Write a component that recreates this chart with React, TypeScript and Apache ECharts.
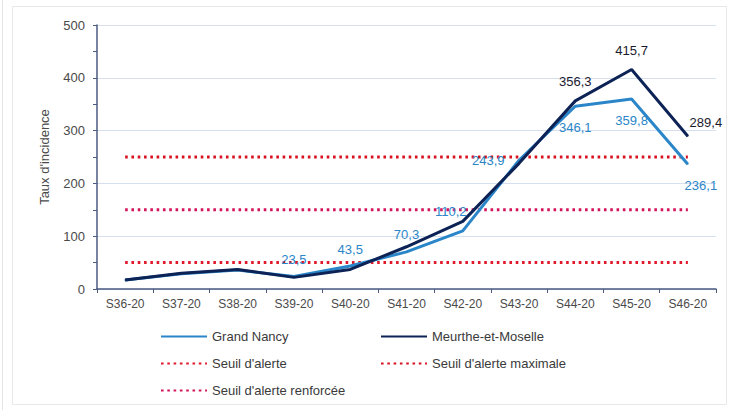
import React, { useEffect, useRef } from "react";
import * as echarts from "echarts";

const weeks = ["S36-20", "S37-20", "S38-20", "S39-20", "S40-20", "S41-20", "S42-20", "S43-20", "S44-20", "S45-20", "S46-20"];
const grandNancy = [17, 29, 36, 23.5, 43.5, 70.3, 110.2, 243.9, 346.1, 359.8, 236.1];
const meurthe = [17, 30, 37, 22, 37, 80, 128, 238, 356.3, 415.7, 289.4];
const seuilAlerte = [50, 50, 50, 50, 50, 50, 50, 50, 50, 50, 50];
const seuilRenforcee = [150, 150, 150, 150, 150, 150, 150, 150, 150, 150, 150];
const seuilMaximale = [250, 250, 250, 250, 250, 250, 250, 250, 250, 250, 250];
const yTicks = [0, 100, 200, 300, 400, 500];

const fmt = (v: number) => v.toFixed(1).replace(".", ",");

const GN = "#2a86c8";
const MM = "#0d2356";
const FONT = "Liberation Sans, Arial, sans-serif";

export default function App() {
  const ref = useRef<HTMLDivElement>(null);
  useEffect(() => {
    const chart = echarts.init(ref.current!, null, { renderer: "svg" });

    const gnLabels: Record<number, any> = {
      3: { position: "top", distance: 10 },
      4: { position: "top", distance: 10 },
      5: { position: "top", distance: 10 },
      6: { position: "top", distance: 12, offset: [-12, 0] },
      7: { position: "left", distance: 14 },
      8: { position: "bottom", distance: 14 },
      9: { position: "bottom", distance: 14 },
      10: { position: "bottom", distance: 14, offset: [13, 0] },
    };
    const mmLabels: Record<number, any> = {
      8: { position: "top", distance: 12 },
      9: { position: "top", distance: 12 },
      10: { position: "top", distance: 7, offset: [18, 0] },
    };

    const gnData = grandNancy.map((v, i) => ({
      value: v,
      label: gnLabels[i]
        ? { show: true, color: GN, fontSize: 13, fontFamily: FONT, formatter: () => fmt(v), ...gnLabels[i] }
        : { show: false },
    }));
    const mmData = meurthe.map((v, i) => ({
      value: v,
      label: mmLabels[i]
        ? { show: true, color: "#1a1a2e", fontSize: 13, fontFamily: FONT, formatter: () => fmt(v), ...mmLabels[i] }
        : { show: false },
    }));

    const dotted = (name: string, data: number[], color: string) => ({
      name,
      type: "line",
      data,
      symbol: "none",
      silent: true,
      z: 1,
      lineStyle: { color, width: 3, type: [2.6, 3.7], cap: "butt" },
      itemStyle: { color },
    });

    const legendBase = {
      itemWidth: 46,
      itemHeight: 12,
      padding: 0,
      itemStyle: { color: "transparent", borderWidth: 0, opacity: 0 },
      textStyle: { fontSize: 13, color: "#3a3a3a", fontFamily: FONT },
      selectedMode: false,
    };

    chart.setOption({
      animation: false,
      backgroundColor: "#ffffff",
      grid: { left: 97, right: 22, top: 25, bottom: 121 },
      xAxis: {
        type: "category",
        data: weeks,
        boundaryGap: true,
        axisLine: { lineStyle: { color: "#4a5a80", width: 1.5 } },
        axisTick: { show: true, length: 4, lineStyle: { color: "#4a5a80" } },
        axisLabel: { color: "#4a4a4a", fontSize: 12, fontFamily: FONT, margin: 9 },
      },
      yAxis: {
        type: "value",
        min: yTicks[0],
        max: yTicks[yTicks.length - 1],
        interval: 100,
        name: "Taux d'incidence",
        nameLocation: "middle",
        nameGap: 46,
        nameTextStyle: { fontSize: 13, color: "#4a4a4a", fontFamily: FONT },
        axisLine: { show: true, lineStyle: { color: "#4a5a80", width: 1.5 } },
        axisTick: { show: true, length: 4, lineStyle: { color: "#4a5a80" } },
        minorTick: { show: true, splitNumber: 2, length: 4, lineStyle: { color: "#4a5a80" } },
        axisLabel: { color: "#4a4a4a", fontSize: 13, fontFamily: FONT, margin: 12 },
        splitLine: { show: true, lineStyle: { color: "#d5dff0", width: 1 } },
      },
      legend: [
        { ...legendBase, data: ["Grand Nancy"], left: 160, top: 330 },
        { ...legendBase, data: ["Meurthe-et-Moselle"], left: 380, top: 330 },
        { ...legendBase, data: ["Seuil d'alerte"], left: 160, top: 357 },
        { ...legendBase, data: ["Seuil d'alerte maximale"], left: 380, top: 357 },
        { ...legendBase, data: ["Seuil d'alerte renforcée"], left: 160, top: 384 },
      ],
      graphic: [
        { type: "rect", shape: { x: 12.5, y: 6.5, width: 714, height: 398 }, style: { fill: "none", stroke: "#e8e8e8", lineWidth: 1 }, silent: true },
        { type: "line", shape: { x1: 2.5, y1: 0, x2: 2.5, y2: 410 }, style: { stroke: "#e4e4e4", lineWidth: 1 }, silent: true },
      ],
      series: [
        dotted("Seuil d'alerte", seuilAlerte, "#e0182a"),
        dotted("Seuil d'alerte maximale", seuilMaximale, "#d8101f"),
        dotted("Seuil d'alerte renforcée", seuilRenforcee, "#d4145a"),
        {
          name: "Grand Nancy",
          type: "line",
          data: gnData,
          symbol: "circle",
          symbolSize: 1,
          showSymbol: true,
          z: 3,
          lineStyle: { color: GN, width: 3 },
          itemStyle: { color: GN },
        },
        {
          name: "Meurthe-et-Moselle",
          type: "line",
          data: mmData,
          symbol: "circle",
          symbolSize: 1,
          showSymbol: true,
          z: 4,
          lineStyle: { color: MM, width: 3 },
          itemStyle: { color: MM },
        },
      ],
    });
    return () => chart.dispose();
  }, []);

  return (
    <div
      ref={ref}
      style={{ position: "fixed", left: 0, top: 0, width: 738, height: 410, background: "#fff" }}
    />
  );
}
